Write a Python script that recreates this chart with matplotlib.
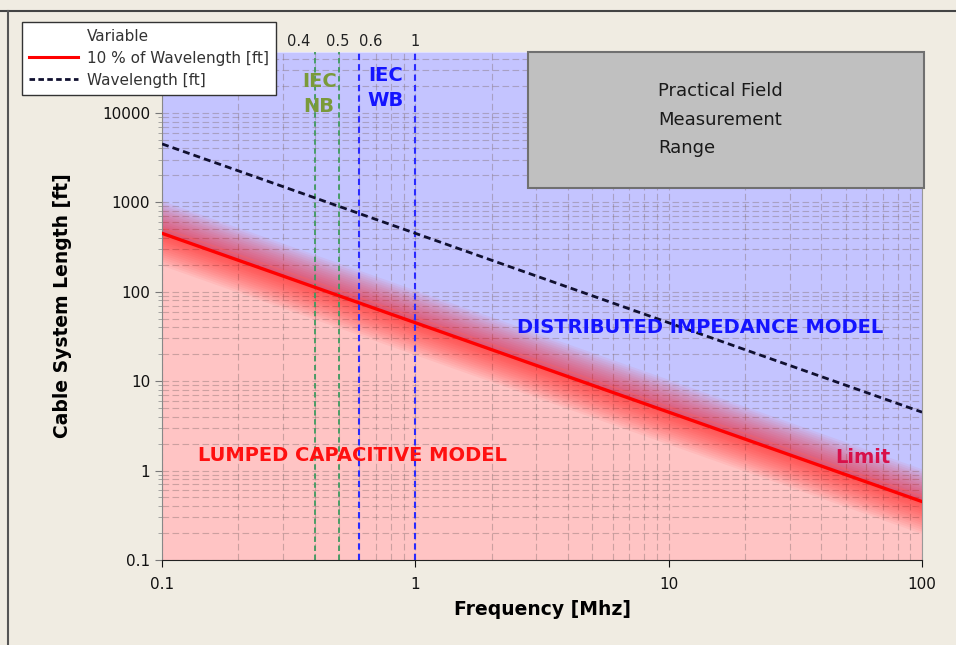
import numpy as np
import matplotlib
matplotlib.use("Agg")
import matplotlib.pyplot as plt
from matplotlib.lines import Line2D
from matplotlib.patches import Rectangle

# frequency sweep and cable lengths
freq_mhz = [0.1, 1, 10, 100]
wavelength_ft = [4500, 450, 45, 4.5]
limit_ft = [450, 45, 4.5, 0.45]   # 10 % of wavelength

iec_nb = [0.4, 0.5]
iec_wb = [0.6, 1]
top_ticks = [0.4, 0.5, 0.6, 1]
top_labels = ["0.4", "0.5", "0.6", "1"]
top_label_shift = [-16, -1, 12, 0]   # pixels, keeps the labels apart

x_ticks = [0.1, 1, 10, 100]
x_labels = ["0.1", "1", "10", "100"]
y_ticks = [0.1, 1, 10, 100, 1000, 10000]
y_labels = ["0.1", "1", "10", "100", "1000", "10000"]

field_x = [2.79, 100]
field_y = [1450, 48000]

bg = "#f0ece2"
plt.rcParams["font.family"] = ["DejaVu Sans"]

fig = plt.figure(figsize=(9.56, 6.45), dpi=100, facecolor=bg)
ax = fig.add_axes([0.1695, 0.1318, 0.7950, 0.7876])
ax.set_xscale("log")
ax.set_yscale("log")
ax.set_xlim(0.1, 100)
ax.set_ylim(0.1, 48000)

x = np.array(freq_mhz)
lim = np.array(limit_ft)

# regions above / below the limit line
ax.fill_between(x, 0.1, lim, color="#ffc4c4", zorder=0, lw=0)
ax.fill_between(x, lim, 48000, color="#c4c4ff", zorder=0, lw=0)

# grid
ax.grid(True, which="both", color="#806c6c", alpha=0.4, lw=0.8,
        linestyle=(0, (6, 3)), zorder=1)

# glow around the limit line
for w in range(44, 3, -3):
    ax.plot(x, lim, color="red", lw=w, alpha=0.05, solid_capstyle="projecting", zorder=2)
for f in (0.85, 1.15):
    ax.plot(x, lim * f, color="#ff6060", lw=1, alpha=0.4, zorder=2)
ax.plot(x, lim, color="red", lw=2.4, zorder=3)

ax.plot(x, wavelength_ft, color="#101030", lw=2, linestyle=(0, (2.5, 1.5)), zorder=3)

# IEC bands
for v in iec_nb:
    ax.axvline(v, color="#3f9a5f", lw=1.3, linestyle=(0, (3, 2)), zorder=2)
for v in iec_wb:
    ax.axvline(v, color="#2a2aff", lw=1.5, linestyle=(0, (3, 2)), zorder=2)

# practical field measurement range box
ax.add_patch(Rectangle((field_x[0], field_y[0]), field_x[1] * 1.02 - field_x[0],
                       field_y[1] - field_y[0], facecolor="#c0c0c0",
                       edgecolor="#707070", lw=1.5, zorder=4, clip_on=False))
ax.text(9.1, 8350, "Practical Field\nMeasurement\nRange", fontsize=13,
        color="#1a1a1a", ha="left", va="center", linespacing=1.75, zorder=5)

ax.text(0.417, 16400, "IEC\nNB", color="#7a9a3a", fontsize=14, fontweight="bold",
        ha="center", va="center", linespacing=1.4, zorder=5)
ax.text(0.76, 19000, "IEC\nWB", color="#1414ff", fontsize=14, fontweight="bold",
        ha="center", va="center", linespacing=1.4, zorder=5)
ax.text(13.3, 40, "DISTRIBUTED IMPEDANCE MODEL", color="#1414ff", fontsize=14,
        fontweight="bold", ha="center", va="center", zorder=5)
ax.text(0.562, 1.46, "LUMPED CAPACITIVE MODEL", color="#ff1010", fontsize=14,
        fontweight="bold", ha="center", va="center", zorder=5)
ax.text(58.5, 1.41, "Limit", color="#d8104a", fontsize=14, fontweight="bold",
        ha="center", va="center", zorder=5)

# axes styling
ax.set_xticks(x_ticks)
ax.set_xticklabels(x_labels)
ax.set_yticks(y_ticks)
ax.set_yticklabels(y_labels)
ax.tick_params(axis="x", which="minor", length=0)
ax.tick_params(axis="both", which="major", labelsize=11, colors="#111111",
               direction="out", length=5)
ax.tick_params(axis="x", which="major", pad=7)
ax.tick_params(axis="y", which="major", color="#777777")
ax.tick_params(axis="y", which="minor", length=3, color="#999999")
ax.spines["top"].set_visible(False)
ax.spines["left"].set_color("#888888")
ax.spines["right"].set_color("#999999")
ax.spines["bottom"].set_color("#222222")
ax.set_xlabel("Frequency [Mhz]", fontsize=13.5, fontweight="bold", labelpad=6)
ax.set_ylabel("Cable System Length [ft]", fontsize=13.5, fontweight="bold", labelpad=22)

# top frequency labels for the IEC lines
for v, lab, dx in zip(top_ticks, top_labels, top_label_shift):
    ax.annotate(lab, xy=(v, 1), xycoords=("data", "axes fraction"),
                xytext=(dx * 0.72, 2), textcoords="offset points",
                ha="center", va="bottom", fontsize=10.5, color="#222222")

# legend with a text-only header row
handles = [Line2D([], [], color="none"),
           Line2D([], [], color="red", lw=2.2),
           Line2D([], [], color="#101030", lw=2, linestyle=(0, (2, 1.2)))]
labels = ["Variable", "10 % of Wavelength [ft]", "Wavelength [ft]"]
leg = fig.legend(handles, labels, loc="upper left",
                 bbox_to_anchor=(22 / 956, 1 - 22 / 645), borderaxespad=0,
                 fontsize=11, frameon=True, fancybox=False, edgecolor="#333333",
                 framealpha=1, borderpad=0.45, labelspacing=0.45,
                 handlelength=3.2, handletextpad=0.6)
leg.get_frame().set_linewidth(1)
for t in leg.get_texts():
    t.set_color("#333333")

# window frame lines
fig.add_artist(Line2D([0, 1], [1 - 11 / 645] * 2, color="#444444", lw=1.5,
                      transform=fig.transFigure))
fig.add_artist(Line2D([8 / 956] * 2, [0, 1 - 11 / 645], color="#555555", lw=1.5,
                      transform=fig.transFigure))

fig.savefig("out.png", dpi=100, facecolor=bg)
